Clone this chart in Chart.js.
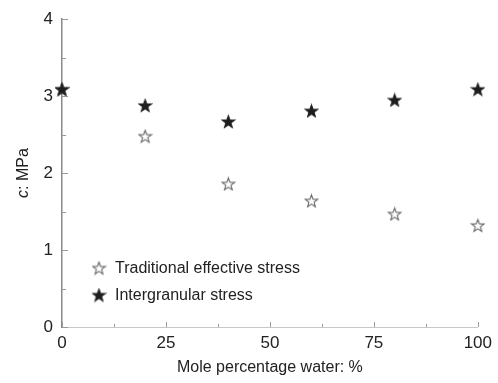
<!DOCTYPE html>
<html>
<head>
<meta charset="utf-8">
<script src="https://cdn.jsdelivr.net/npm/chart.js@4"></script>
<style>
  html, body { margin: 0; padding: 0; background: #fff; }
  #wrap { width: 498px; height: 383px; }
</style>
</head>
<body>
<div id="wrap"><canvas id="chart" width="498" height="383"></canvas></div>
<script>
// mole percentage of water
const waterPct = [0, 20, 40, 60, 80, 100];
// cohesion c (MPa) for each stress definition
const traditionalStress = [3.09, 2.48, 1.86, 1.64, 1.47, 1.32];
const intergranularStress = [3.09, 2.88, 2.67, 2.81, 2.95, 3.09];
const seriesNames = ["Traditional effective stress", "Intergranular stress"];
const xTicks = [0, 25, 50, 75, 100];
const yTicks = [0, 1, 2, 3, 4];

const FONT = "'Liberation Sans', Arial, Helvetica, sans-serif";

// five-pointed star drawn onto a small canvas, used as point style
function starImage(size, fill, stroke) {
  const c = document.createElement("canvas");
  c.width = size; c.height = size;
  const g = c.getContext("2d");
  const cx = size / 2, cy = size / 2 + 0.6;
  const R = size / 2 - 1, r = R * 0.42;
  g.beginPath();
  for (let i = 0; i < 10; i++) {
    const rad = i % 2 === 0 ? R : r;
    const a = -Math.PI / 2 + i * Math.PI / 5;
    const px = cx + rad * Math.cos(a), py = cy + rad * Math.sin(a);
    if (i === 0) g.moveTo(px, py); else g.lineTo(px, py);
  }
  g.closePath();
  g.fillStyle = fill;
  g.fill();
  g.lineWidth = 1.1;
  g.strokeStyle = stroke;
  g.stroke();
  return c;
}

const openStar = starImage(15, "#ffffff", "#666666");
const filledStar = starImage(15, "#1e1e1e", "#1e1e1e");

function toPoints(ys) {
  return waterPct.map((x, i) => ({ x: x, y: ys[i] }));
}

// inward tick marks, major and minor
const innerTicks = {
  id: "innerTicks",
  afterDatasetsDraw(chart) {
    const ctx = chart.ctx;
    const xs = chart.scales.x, ys = chart.scales.y;
    ctx.save();
    ctx.lineWidth = 1;
    ctx.strokeStyle = "#999";
    for (let v = 0; v <= 100; v += 12.5) {
      const px = Math.round(xs.getPixelForValue(v)) + 0.5;
      const len = v % 25 === 0 ? 5 : 3;
      ctx.beginPath();
      ctx.moveTo(px, ys.bottom);
      ctx.lineTo(px, ys.bottom - len);
      ctx.stroke();
    }
    for (let v = 0; v <= 4; v += 0.5) {
      const py = Math.round(ys.getPixelForValue(v)) + 0.5;
      const len = v % 1 === 0 ? 6 : 4;
      ctx.beginPath();
      ctx.moveTo(xs.left, py);
      ctx.lineTo(xs.left + len, py);
      ctx.stroke();
    }
    ctx.restore();
  }
};

// legend inside the plot (lower left) and the y-axis title with italic c
const annotations = {
  id: "annotations",
  afterDraw(chart) {
    const ctx = chart.ctx;
    const area = chart.chartArea;
    const icons = [openStar, filledStar];
    ctx.save();
    ctx.font = "16px " + FONT;
    ctx.fillStyle = "#222";
    ctx.textBaseline = "middle";
    const x0 = area.left + 37;
    const y0 = area.bottom - 59;
    chart.data.datasets.forEach((ds, i) => {
      const y = y0 + i * 27;
      ctx.drawImage(icons[i], x0 - 7.5, y - 7.5);
      ctx.fillText(ds.label, x0 + 16, y + 1);
    });

    // rotated y title
    const cy = (area.top + area.bottom) / 2;
    ctx.translate(28, cy);
    ctx.rotate(-Math.PI / 2);
    ctx.textBaseline = "alphabetic";
    const italic = "italic 16px " + FONT;
    const normal = "16px " + FONT;
    ctx.font = italic;
    const w1 = ctx.measureText("c").width;
    ctx.font = normal;
    const w2 = ctx.measureText(": MPa").width;
    const start = -(w1 + w2) / 2;
    ctx.font = italic;
    ctx.fillText("c", start, 0);
    ctx.font = normal;
    ctx.fillText(": MPa", start + w1, 0);
    ctx.restore();
  }
};

new Chart(document.getElementById("chart"), {
  type: "scatter",
  data: {
    datasets: [
      {
        label: seriesNames[0],
        data: toPoints(traditionalStress),
        pointStyle: openStar,
        clip: false,
        order: 1
      },
      {
        label: seriesNames[1],
        data: toPoints(intergranularStress),
        pointStyle: filledStar,
        clip: false,
        order: 0
      }
    ]
  },
  options: {
    responsive: false,
    animation: false,
    layout: { padding: { left: 0, right: 19, top: 15, bottom: 0 } },
    plugins: {
      legend: { display: false },
      tooltip: { enabled: false }
    },
    scales: {
      x: {
        type: "linear",
        min: 0,
        max: 100,
        afterBuildTicks(scale) { scale.ticks = xTicks.map(v => ({ value: v })); },
        afterFit(scale) { scale.height = 56; },
        grid: { display: false, drawTicks: false },
        border: { display: true, color: "#c8c8c8", width: 1 },
        ticks: { font: { size: 17, family: FONT }, color: "#222", padding: 6 },
        title: {
          display: true,
          text: "Mole percentage water: %",
          font: { size: 16, family: FONT },
          color: "#222",
          padding: { top: 0, bottom: 6 }
        }
      },
      y: {
        type: "linear",
        min: 0,
        max: 4,
        afterBuildTicks(scale) { scale.ticks = yTicks.map(v => ({ value: v })); },
        afterFit(scale) { scale.width = 62; },
        grid: { display: false, drawTicks: false },
        border: { display: true, color: "#8a8a8a", width: 1.5 },
        ticks: { font: { size: 17, family: FONT }, color: "#222", padding: 9 }
      }
    }
  },
  plugins: [innerTicks, annotations]
});
</script>
</body>
</html>
